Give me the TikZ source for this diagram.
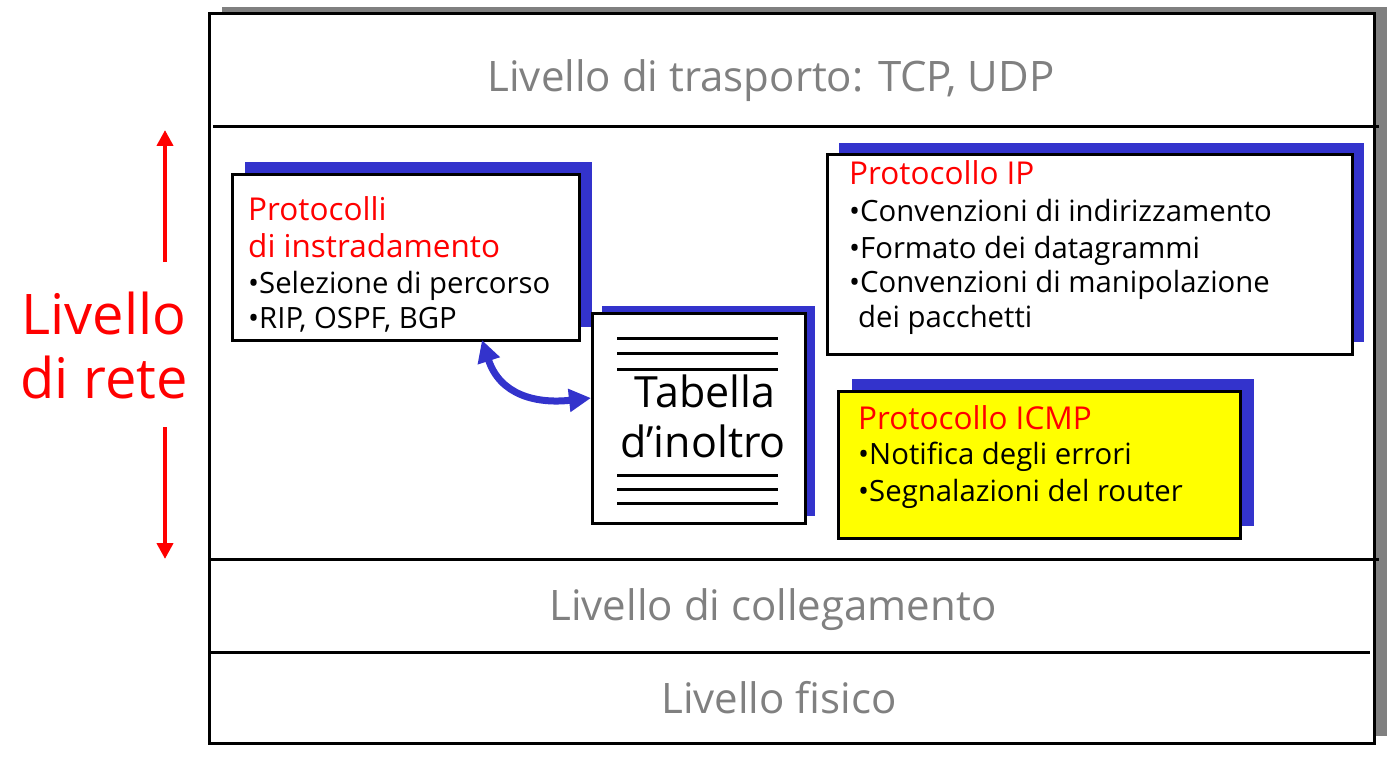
\documentclass[tikz,border=0pt]{standalone}
\usepackage{fontspec}
\setmainfont{Open Sans}
\usetikzlibrary{arrows.meta,calc,shadows}
\definecolor{shblue}{RGB}{51,51,204}
\definecolor{gtext}{RGB}{128,128,128}
\definecolor{shgray}{RGB}{128,128,128}
\definecolor{ired}{RGB}{255,0,0}
\definecolor{iyel}{RGB}{255,255,0}
\begin{document}
\begin{tikzpicture}[x=1pt,y=-1pt,
  box/.style={draw=black, line width=3pt, fill=white, inner sep=0pt, outer sep=0pt, anchor=north west},
  bshadow/.style args={#1/#2}{drop shadow={shadow xshift=#1, shadow yshift=#2, fill=shblue, opacity=1}},
  sepline/.style={line width=3pt, black},
  tline/.style={line width=3pt, black},
  graylbl/.style={anchor=base, inner sep=0pt, text=gtext, font=\fontsize{42}{50}\selectfont},
  redtitle/.style={anchor=base west, inner sep=0pt, text=ired, font=\fontsize{31.5}{37}\selectfont},
  item/.style={anchor=base west, inner sep=0pt, text=black, font=\fontsize{29.3}{35}\selectfont},
  bluearrow/.style={line width=7pt, shblue, {Triangle[length=22pt,width=22pt]}-{Triangle[length=22pt,width=22pt]}},
  redarrow/.style={line width=4pt, ired, -{Triangle[length=16pt,width=16pt]}}
]
\useasboundingbox (0,0) rectangle (1397,762);

% outer stack
\node[box, minimum width=1165, minimum height=729,
  drop shadow={shadow xshift=13pt, shadow yshift=7pt, fill=shgray, opacity=1}] (outer) at (209,14) {};
\draw[sepline] (213,127) -- (1379,127);
\draw[sepline] (209,559) -- (1379,559);
\draw[sepline] (209,652) -- (1370,652);

\node[graylbl] (transp) at (771,92) {Livello di trasporto: TCP, UDP};
\node[graylbl] (coll) at (773,620) {Livello di collegamento};
\node[graylbl] (fis) at (779,713) {Livello fisico};

% routing protocols box
\node[box, minimum width=347, minimum height=165, bshadow=13pt/13pt] (route) at (232,175) {};
\node[redtitle] (r1) at (248,220) {Protocolli};
\node[redtitle] (r2) at (248,257) {di instradamento};
\node[item] (r3) at (248,293) {•Selezione di percorso};
\node[item] (r4) at (248,328) {•RIP, OSPF, BGP};

% forwarding table
\node[box, minimum width=213, minimum height=210, bshadow=10pt/7pt] (table) at (592,313) {};
\foreach \yy in {338,353,369,475,489,503} \draw[tline] (617,\yy) -- (778,\yy);
\node[anchor=base, inner sep=0pt, font=\fontsize{43}{50}\selectfont] (t1) at (705,407) {Tabella};
\node[anchor=base, inner sep=0pt, font=\fontsize{43}{50}\selectfont] (t2) at (703,457) {d’inoltro};

% IP box
\node[box, minimum width=525, minimum height=199, bshadow=12pt/12pt] (ip) at (827,155) {};
\node[redtitle] (i1) at (849,185) {Protocollo IP};
\node[item] (i2) at (849,222) {•Convenzioni di indirizzamento};
\node[item] (i3) at (849,258) {•Formato dei datagrammi};
\node[item] (i4) at (849,292) {•Convenzioni di manipolazione};
\node[item] (i5) at (858,327) {dei pacchetti};

% ICMP box
\node[box, fill=iyel, minimum width=402, minimum height=147, bshadow=14pt/12pt] (icmp) at (838,391) {};
\node[redtitle] (c1) at (858,429) {Protocollo ICMP};
\node[item] (c2) at (858,464) {•Notifica degli errori};
\node[item] (c3) at (858,501) {•Segnalazioni del router};

% blue double arrow
\coordinate (a1) at ($(route.south west)+(250,0)$);
\coordinate (a2) at ($(table.north west)+(-1,85)$);
\draw[bluearrow] (a1) .. controls ($(a1)+(18,55)$) and ($(a2)+(-55,6)$) .. (a2);

% network layer label
\node[anchor=center, align=center, inner sep=0pt, text=ired, font=\fontsize{56}{64}\selectfont] (lvl) at (104,345) {Livello\\di rete};
\coordinate (up1) at (165,262);
\coordinate (up2) at (165,130);
\coordinate (dn1) at (165,427);
\coordinate (dn2) at (165,559);
\draw[redarrow] (up1) -- (up2);
\draw[redarrow] (dn1) -- (dn2);
\end{tikzpicture}
\end{document}
